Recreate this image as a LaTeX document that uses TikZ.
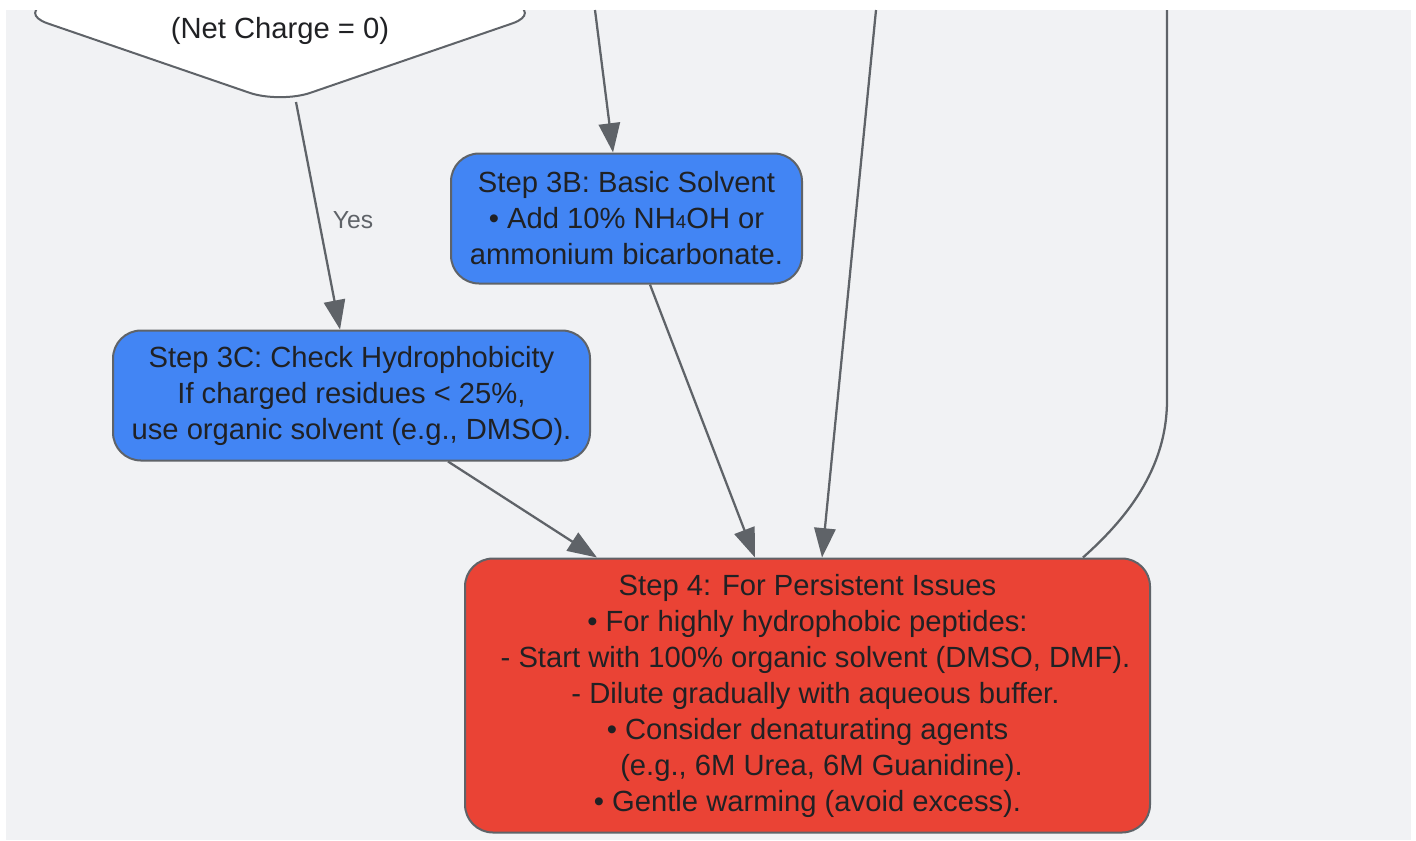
\documentclass[tikz,border=0pt]{standalone}
\usepackage{fontspec}
\setmainfont{Liberation Sans}
\usepackage{tikz}
\usetikzlibrary{arrows.meta, shapes.geometric}

\definecolor{bgGray}{HTML}{F1F2F4}
\definecolor{lineGray}{HTML}{5F6368}
\definecolor{stepBlue}{HTML}{4285F4}
\definecolor{stepRed}{HTML}{EA4335}
\definecolor{txtDark}{HTML}{202124}

\tikzset{
    stepbox/.style={draw=lineGray, line width=1.5pt, rounded corners=21pt, align=center,
        text=txtDark, inner sep=0pt, font=\fontsize{21.9pt}{27pt}\selectfont},
    decision/.style={diamond, draw=lineGray, fill=white, line width=1.5pt, rounded corners=24pt,
        minimum width=394.5pt, minimum height=136pt, inner sep=0pt},
    flow/.style={draw=lineGray, line width=1.7pt, -{Triangle[length=22pt, width=16pt]}},
    plainflow/.style={draw=lineGray, line width=1.7pt},
    yeslbl/.style={text=lineGray, font=\fontsize{18.5pt}{22pt}\selectfont}
}

\begin{document}
\begin{tikzpicture}[x=0.75pt, y=-0.75pt]
    \useasboundingbox (0,0) rectangle (1416,840);
    \fill[bgGray] (6,10) rectangle (1411,840);
    \begin{scope}
        \clip (6,10) rectangle (1411,840);
        \node[decision] (neutral) at (280,13) {};
        \node[text=txtDark, font=\fontsize{21.9pt}{27pt}\selectfont] (netq) at (280,31) {(Net Charge = 0)};
    \end{scope}

    \node[stepbox, fill=stepBlue, minimum width=263.25pt, minimum height=97.5pt] (basic) at (626.5,218.5)
        {Step 3B: Basic Solvent\\ • Add 10\% NH{\fontsize{14pt}{14pt}\selectfont 4}OH or\\ ammonium bicarbonate.};
    \node[stepbox, fill=stepBlue, minimum width=357.75pt, minimum height=97.5pt] (hydro) at (351.5,395.5)
        {Step 3C: Check Hydrophobicity\\ If charged residues < 25\%,\\ use organic solvent (e.g., DMSO).};
    \node[stepbox, fill=stepRed, minimum width=513.75pt, minimum height=205.5pt] (persist) at (807.5,695.5)
        {Step 4: For Persistent Issues\\
         • For highly hydrophobic peptides:\\
         \hspace*{12pt}- Start with 100\% organic solvent (DMSO, DMF).\\
         \hspace*{12pt}- Dilute gradually with aqueous buffer.\\
         • Consider denaturating agents\\
         \hspace*{21pt}(e.g., 6M Urea, 6M Guanidine).\\
         • Gentle warming (avoid excess).};

    \coordinate (fromA) at (595,10);
    \coordinate (fromB) at (876,10);
    \coordinate (fromC) at (1167,10);

    \draw[flow] ([xshift=12pt, yshift=2pt]neutral.south) -- node[right=7pt, yshift=-3pt, yeslbl] {Yes} ([xshift=-8.6pt]hydro.north);
    \draw[flow] (fromA) -- ([xshift=-10.1pt]basic.north);
    \draw[flow] (fromB) -- ([xshift=10.9pt]persist.north);
    \draw[flow] ([xshift=17.6pt]basic.south) -- ([xshift=-39.4pt]persist.north);
    \draw[flow] ([xshift=72.4pt]hydro.south) -- ([xshift=-157.9pt]persist.north);
    \draw[plainflow] (fromC) -- (1167,400) .. controls (1167,470) and (1125,520) .. ([xshift=206.6pt]persist.north);
\end{tikzpicture}
\end{document}
